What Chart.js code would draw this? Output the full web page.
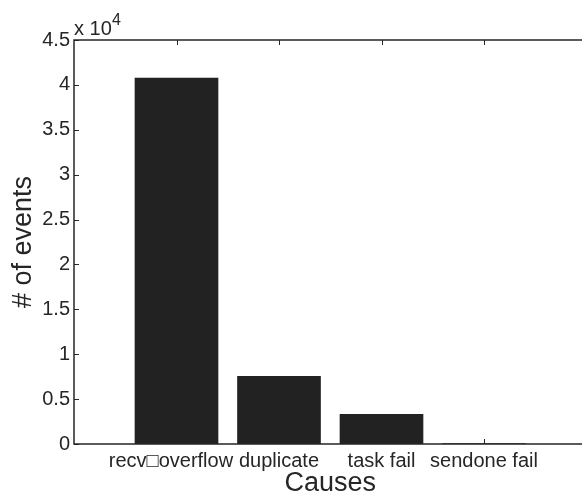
<!DOCTYPE html>
<html>
<head>
<meta charset="utf-8">
<script src="https://cdn.jsdelivr.net/npm/chart.js@4"></script>
<style>
  body { margin: 0; overflow: hidden; background: #fff; }
</style>
</head>
<body>
<canvas id="causesChart" width="600" height="500"></canvas>
<script>
// data (counts, axis shown in units of 10^4)
const causes = ['recv\u25A1overflow  ', 'duplicate', 'task fail', 'sendone fail'];
const eventCounts = [40750, 7550, 3300, 60];
const yTickValues = [0, 5000, 10000, 15000, 20000, 25000, 30000, 35000, 40000, 45000];
const yTickLabels = ['0', '0.5', '1', '1.5', '2', '2.5', '3', '3.5', '4', '4.5'];

const ink = '#262626';
const fontFamily = '"Liberation Sans", Arial, Helvetica, sans-serif';

// matlab style: empty slot at each end so bars sit at x = 1..4 on a 0..5 axis
const labels = [''].concat(causes, ['']);
const values = [null].concat(eventCounts, [null]);

const matlabFrame = {
  id: 'matlabFrame',
  beforeDatasetsDraw(chart) {
    const {ctx, chartArea: a, scales: {x, y}} = chart;
    ctx.save();
    ctx.strokeStyle = ink;
    ctx.lineWidth = 1;
    ctx.beginPath();
    yTickValues.forEach(v => {
      const py = Math.round(y.getPixelForValue(v)) + 0.5;
      ctx.moveTo(a.left, py); ctx.lineTo(a.left + 5, py);
    });
    for (let i = 1; i <= causes.length; i++) {
      const px = Math.round(x.getPixelForValue(i)) + 0.5;
      ctx.moveTo(px, a.bottom); ctx.lineTo(px, a.bottom - 5);
      ctx.moveTo(px, a.top); ctx.lineTo(px, a.top + 5);
    }
    ctx.stroke();
    ctx.restore();
  },
  afterDatasetsDraw(chart) {
    const {ctx, chartArea: a} = chart;
    ctx.save();
    ctx.strokeStyle = ink;
    ctx.lineWidth = 1.5;
    ctx.beginPath();
    ctx.moveTo(a.right, a.top); ctx.lineTo(a.left, a.top);
    ctx.lineTo(a.left, a.bottom); ctx.lineTo(a.right, a.bottom);
    ctx.stroke();
    // exponent label
    ctx.fillStyle = ink;
    ctx.textBaseline = 'alphabetic';
    ctx.font = '20px ' + fontFamily;
    ctx.fillText('x 10', a.left, a.top - 5);
    ctx.font = '16px ' + fontFamily;
    ctx.fillText('4', a.left + 38, a.top - 15);
    ctx.restore();
  }
};

const ctx = document.getElementById('causesChart').getContext('2d');
const causesChart = new Chart(ctx, {
  type: 'bar',
  data: {
    labels: labels,
    datasets: [{
      label: '# of events',
      data: values,
      backgroundColor: '#222222',
      borderWidth: 0,
      barThickness: 83
    }]
  },
  options: {
    responsive: false,
    animation: false,
    devicePixelRatio: 1,
    layout: { padding: { left: 0, top: 40, right: 13.5, bottom: 0 } },
    plugins: {
      legend: { display: false },
      tooltip: { enabled: false }
    },
    scales: {
      x: {
        offset: false,
        grid: { display: false, drawTicks: false },
        border: { display: false },
        ticks: {
          autoSkip: false,
          maxRotation: 0,
          padding: 5,
          color: ink,
          font: { family: fontFamily, size: 20 }
        },
        title: {
          display: true,
          text: 'Causes',
          color: ink,
          font: { family: fontFamily, size: 27 },
          padding: { top: 0, bottom: 0 }
        },
        afterFit(scale) { scale.height = 56; }
      },
      y: {
        min: 0,
        max: 45000,
        grid: { display: false, drawTicks: false },
        border: { display: false },
        afterBuildTicks(scale) {
          scale.ticks = yTickValues.map(v => ({ value: v }));
        },
        ticks: {
          padding: 4,
          color: ink,
          font: { family: fontFamily, size: 20 },
          callback: (v) => yTickLabels[yTickValues.indexOf(v)]
        },
        title: {
          display: true,
          text: '# of events',
          color: ink,
          font: { family: fontFamily, size: 27 },
          padding: { top: 7, bottom: 0 }
        },
        afterFit(scale) { scale.width = 74; }
      }
    }
  },
  plugins: [matlabFrame]
});
</script>
</body>
</html>
